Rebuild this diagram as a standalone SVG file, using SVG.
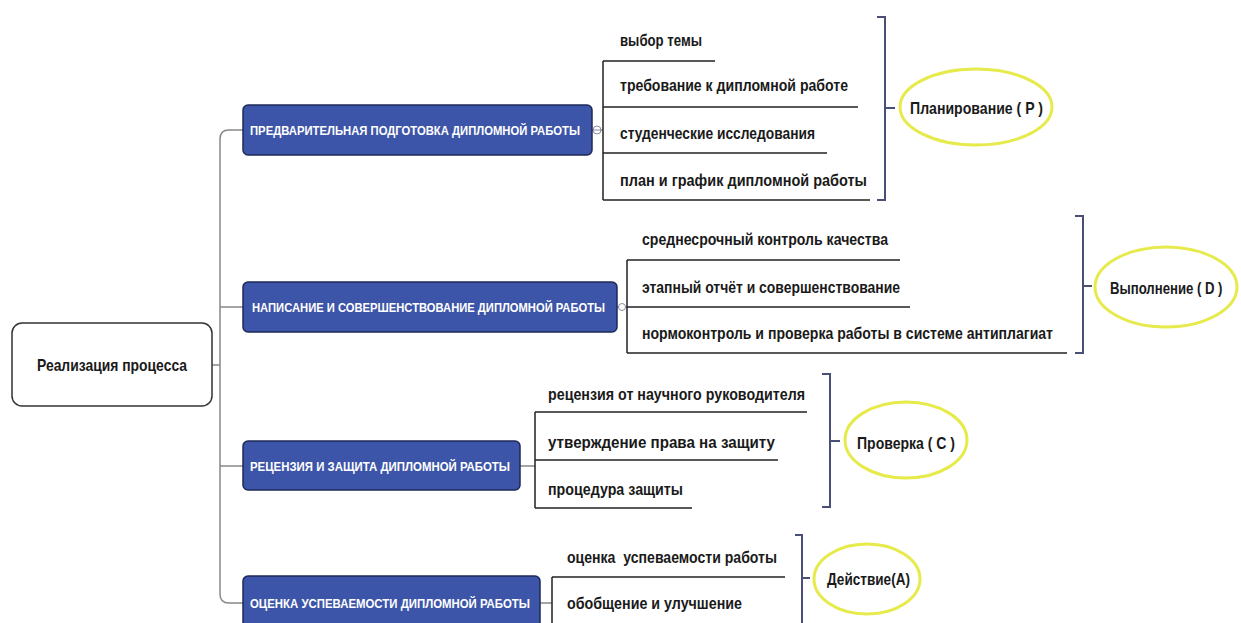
<svg xmlns="http://www.w3.org/2000/svg" width="1241" height="623" viewBox="0 0 1241 623">
<style>
.bg{fill:#ffffff}
.root{fill:#ffffff;stroke:#333333;stroke-width:1.5}
.box{fill:#3d55a8;stroke:#1e2858;stroke-width:1.5}
.bt{font-family:"Liberation Sans",Arial,sans-serif;font-weight:bold;font-size:13px;fill:#ffffff}
.t{font-family:"Liberation Sans",Arial,sans-serif;font-weight:bold;font-size:17px;fill:#1a1a1a}
.et{font-family:"Liberation Sans",Arial,sans-serif;font-weight:bold;font-size:17px;fill:#1a1a1a}
.spine{fill:none;stroke:#888888;stroke-width:1.5}
.ul{fill:none;stroke:#222222;stroke-width:1.5}
.br{fill:none;stroke:#4a4f78;stroke-width:2}
.ell{fill:#ffffff;stroke:#e6ea4a;stroke-width:3}
.knob{fill:#ffffff;stroke:#8a8fa8;stroke-width:1}
</style>
<rect class="bg" x="0" y="0" width="1241" height="623"/>

<g id="connectors">
  <path class="spine" d="M243,130 H229 Q220,130 220,139 V594 Q220,603 229,603 H243"/>
  <path class="spine" d="M220,307 H243 M220,466 H243 M212,365 H220"/>
  <path class="spine" d="M592,130 H603 M617,307 H627 M520,466 H535 M540,603 H552"/>
  <circle class="knob" cx="597" cy="130" r="4"/>
  <path d="M593,130 H601" stroke="#8a8fa8" stroke-width="1"/>
  <circle class="knob" cx="622" cy="307" r="3.5"/>
  <path class="ul" d="M603,61 V200 M603,61 H715 M603,107 H858 M603,153 H827 M603,200 H870"/>
  <path class="ul" d="M627,260 V353 M627,260 H900 M627,307 H910 M627,353 H1067"/>
  <path class="ul" d="M535,412 V508 M535,412 H807 M535,460 H778 M535,508 H692"/>
  <path class="ul" d="M552,577 V623 M552,577 H785"/>
  <path class="br" d="M877,17 H885 V200 H877 M885,108 H895"/>
  <path class="br" d="M1075,216 H1083 V353 H1075 M1083,286 H1092"/>
  <path class="br" d="M822,374 H830 V507 H822 M830,441 H840"/>
  <path class="br" d="M795,535 H802 V623 M802,578 H810"/>
</g>

<g id="root">
  <rect class="root" x="12" y="323" width="200" height="83" rx="10"/>
  <text class="t" x="37" y="371" textLength="150" lengthAdjust="spacingAndGlyphs">Реализация процесса</text>
</g>

<g id="branch1">
  <rect class="box" x="243" y="105" width="349" height="50" rx="5"/>
  <text class="bt" x="250" y="135" textLength="330" lengthAdjust="spacingAndGlyphs">ПРЕДВАРИТЕЛЬНАЯ ПОДГОТОВКА ДИПЛОМНОЙ РАБОТЫ</text>
</g>
<g id="b1-items">
  <text class="t" x="620" y="46" textLength="82" lengthAdjust="spacingAndGlyphs">выбор темы</text>
  <text class="t" x="620" y="91" textLength="228" lengthAdjust="spacingAndGlyphs">требование к дипломной работе</text>
  <text class="t" x="620" y="139" textLength="195" lengthAdjust="spacingAndGlyphs">студенческие исследования</text>
  <text class="t" x="620" y="186" textLength="247" lengthAdjust="spacingAndGlyphs">план и график дипломной работы</text>
</g>
<g id="plan">
  <ellipse class="ell" cx="976" cy="107" rx="76" ry="38"/>
  <text class="et" x="910" y="114" textLength="133" lengthAdjust="spacingAndGlyphs">Планирование ( P )</text>
</g>

<g id="branch2">
  <rect class="box" x="243" y="282" width="374" height="50" rx="5"/>
  <text class="bt" x="252" y="312" textLength="353" lengthAdjust="spacingAndGlyphs">НАПИСАНИЕ И СОВЕРШЕНСТВОВАНИЕ ДИПЛОМНОЙ РАБОТЫ</text>
</g>
<g id="b2-items">
  <text class="t" x="642" y="245" textLength="246" lengthAdjust="spacingAndGlyphs">среднесрочный контроль качества</text>
  <text class="t" x="642" y="293" textLength="258" lengthAdjust="spacingAndGlyphs">этапный отчёт и совершенствование</text>
  <text class="t" x="642" y="339" textLength="411" lengthAdjust="spacingAndGlyphs">нормоконтроль и проверка работы в системе антиплагиат</text>
</g>
<g id="do">
  <ellipse class="ell" cx="1166" cy="287" rx="71" ry="40"/>
  <text class="et" transform="translate(1110,294) scale(0.76,1)" x="0" y="0" textLength="148" lengthAdjust="spacingAndGlyphs">Выполнение ( D )</text>
</g>

<g id="branch3">
  <rect class="box" x="243" y="441" width="277" height="49" rx="5"/>
  <text class="bt" x="250" y="471" textLength="260" lengthAdjust="spacingAndGlyphs">РЕЦЕНЗИЯ И ЗАЩИТА ДИПЛОМНОЙ РАБОТЫ</text>
</g>
<g id="b3-items">
  <text class="t" x="548" y="400" textLength="257" lengthAdjust="spacingAndGlyphs">рецензия от научного руководителя</text>
  <text class="t" x="548" y="448" textLength="227" lengthAdjust="spacingAndGlyphs">утверждение права на защиту</text>
  <text class="t" x="548" y="495" textLength="135" lengthAdjust="spacingAndGlyphs">процедура защиты</text>
</g>
<g id="check">
  <ellipse class="ell" cx="906" cy="440" rx="61" ry="38"/>
  <text class="et" x="857" y="449" textLength="98" lengthAdjust="spacingAndGlyphs">Проверка ( С )</text>
</g>

<g id="branch4">
  <rect class="box" x="243" y="576" width="297" height="52" rx="5"/>
  <text class="bt" x="250" y="608" textLength="280" lengthAdjust="spacingAndGlyphs">ОЦЕНКА УСПЕВАЕМОСТИ ДИПЛОМНОЙ РАБОТЫ</text>
</g>
<g id="b4-items">
  <text class="t" x="567" y="563" textLength="210" lengthAdjust="spacingAndGlyphs" xml:space="preserve">оценка  успеваемости работы</text>
  <text class="t" x="567" y="609" textLength="175" lengthAdjust="spacingAndGlyphs">обобщение и улучшение</text>
</g>
<g id="act">
  <ellipse class="ell" cx="867" cy="579" rx="53" ry="35"/>
  <text class="et" x="827" y="585" textLength="83" lengthAdjust="spacingAndGlyphs">Действие(A)</text>
</g>
</svg>
